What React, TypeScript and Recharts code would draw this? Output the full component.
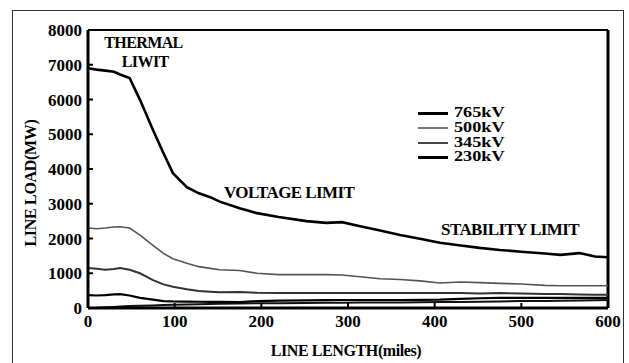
import React from "react";
import {
  LineChart,
  Line,
  XAxis,
  YAxis,
  ReferenceLine,
  ReferenceDot,
  Label,
} from "recharts";

const miles = [0, 10, 20, 30, 37, 48, 60, 75, 87, 98, 114, 128, 141, 152, 175, 195, 220, 252, 275, 293, 314, 337, 360, 383, 406, 430, 452, 475, 500, 527, 545, 567, 585, 600];
const load765 = [6900, 6860, 6830, 6800, 6720, 6620, 5990, 5120, 4460, 3880, 3480, 3300, 3190, 3060, 2870, 2730, 2620, 2500, 2450, 2470, 2350, 2230, 2100, 1990, 1880, 1800, 1730, 1670, 1620, 1570, 1530, 1580, 1480, 1460];
const load500 = [2300, 2280, 2300, 2330, 2340, 2300, 2100, 1800, 1570, 1420, 1290, 1190, 1140, 1100, 1080, 1000, 960, 960, 960, 950, 900, 840, 820, 780, 720, 750, 730, 710, 690, 650, 640, 640, 640, 640];
const load345 = [1150, 1130, 1100, 1120, 1150, 1100, 1000, 800, 680, 610, 540, 490, 470, 455, 460, 440, 430, 430, 430, 430, 430, 430, 430, 430, 430, 430, 420, 430, 420, 400, 400, 390, 380, 380];
const load230 = [370, 360, 370, 390, 400, 360, 290, 240, 200, 190, 185, 180, 178, 175, 170, 200, 210, 220, 225, 230, 230, 230, 230, 235, 240, 260, 280, 290, 290, 290, 290, 290, 290, 290];
const loadLow = [0, 5, 20, 30, 40, 55, 65, 75, 85, 90, 100, 110, 115, 120, 130, 135, 140, 145, 150, 150, 155, 160, 160, 165, 170, 175, 180, 190, 200, 205, 210, 215, 220, 230];

const xTicks = [0, 100, 200, 300, 400, 500, 600];
const yTicks = [0, 1000, 2000, 3000, 4000, 5000, 6000, 7000, 8000];

const legendNames = ["765kV", "500kV", "345kV", "230kV"];
const legendColors = ["#000", "#777", "#444", "#000"];
const legendWidths = [3, 2, 2.2, 3];

const annotations = [
  { text: "THERMAL", x: 64, y: 7630, size: 16 },
  { text: "LIWIT", x: 66, y: 7090, size: 16 },
  { text: "VOLTAGE LIMIT", x: 232, y: 3310, size: 17 },
  { text: "STABILITY LIMIT", x: 487, y: 2270, size: 17 },
];

const data = miles.map((m, i) => ({
  miles: m,
  v765: load765[i],
  v500: load500[i],
  v345: load345[i],
  v230: load230[i],
  vlow: loadLow[i],
}));

const FONT = "Liberation Serif";

const AnnLabel = (text: string, size: number) => (props: any) => {
  const vb = props.viewBox || {};
  const cx = vb.x + (vb.width || 0) / 2;
  const cy = vb.y + (vb.height || 0) / 2;
  return (
    <text
      x={cx}
      y={cy}
      textAnchor="middle"
      dominantBaseline="central"
      style={{ fontFamily: FONT, fontWeight: "bold", fontSize: size, letterSpacing: -0.6 }}
      fill="#000"
    >
      {text}
    </text>
  );
};

const XTick = (props: any) => {
  const { x, y, payload } = props;
  return (
    <text x={x} y={y} dy={12} textAnchor="middle" fill="#000" style={{ fontFamily: FONT, fontWeight: "bold", fontSize: 17 }}>
      {payload.value}
    </text>
  );
};

const YTick = (props: any) => {
  const { x, y, payload } = props;
  return (
    <text x={x} y={y} dy={6} textAnchor="end" fill="#000" style={{ fontFamily: FONT, fontWeight: "bold", fontSize: 17 }}>
      {payload.value}
    </text>
  );
};

const XTitle = (props: any) => {
  const vb = props.viewBox;
  return (
    <text x={vb.x + vb.width / 2 - 2} y={350} textAnchor="middle" dominantBaseline="central" fill="#000" style={{ fontFamily: FONT, fontWeight: "bold", fontSize: 16, letterSpacing: -0.4 }}>
      LINE LENGTH(miles)
    </text>
  );
};

const YTitle = () => {
  const cy = 183;
  return (
    <text x={30} y={cy} transform={`rotate(-90 30 ${cy})`} textAnchor="middle" dominantBaseline="central" fill="#000" style={{ fontFamily: FONT, fontWeight: "bold", fontSize: 16, letterSpacing: -0.3 }}>
      LINE LOAD(MW)
    </text>
  );
};

const LegendBox = () => (
  <div style={{ position: "absolute", left: 418, top: 106, fontFamily: FONT, fontWeight: "bold", fontSize: 14, color: "#000" }}>
    {legendNames.map((n, i) => (
      <div key={n} style={{ display: "flex", alignItems: "center", height: 14.7, lineHeight: "14px" }}>
        <div style={{ width: 30, height: 0, borderTop: `${legendWidths[i]}px solid ${legendColors[i]}`, marginRight: 6 }} />
        <span style={{ display: "inline-block", transform: "scale(1.3, 1.05)", transformOrigin: "left center" }}>{n}</span>
      </div>
    ))}
  </div>
);

export default function App() {
  return (
    <div style={{ position: "absolute", left: 0, top: 0, width: 629, height: 363, background: "#fff", overflow: "hidden" }}>
      <div
        style={{
          position: "absolute",
          left: 12,
          top: 10,
          width: 612,
          height: 370,
          border: "1.5px solid #333",
          boxSizing: "border-box",
        }}
      />
      <div style={{ position: "absolute", left: 0, top: 0 }}>
        <LineChart width={629} height={363} data={data} margin={{ top: 30, right: 21, bottom: 0, left: 0 }} style={{ fontFamily: FONT }}>
          <XAxis
            dataKey="miles"
            type="number"
            domain={[0, 600]}
            ticks={xTicks}
            height={55}
            axisLine={{ stroke: "#000", strokeWidth: 3 }}
            tickLine={{ stroke: "#000", strokeWidth: 2 }}
            tickSize={-5}
            tickMargin={12}
            tick={XTick}
          >
            <Label content={XTitle} />
          </XAxis>
          <YAxis
            type="number"
            domain={[0, 8000]}
            ticks={yTicks}
            width={88}
            axisLine={{ stroke: "#000", strokeWidth: 3 }}
            tickLine={{ stroke: "#000", strokeWidth: 2 }}
            tickSize={-5}
            tickMargin={11}
            tick={YTick}
          >
            <Label content={YTitle} />
          </YAxis>
          <ReferenceLine y={8000} stroke="#000" strokeWidth={2} />
          <ReferenceLine x={600} stroke="#000" strokeWidth={3} />
          <Line dataKey="vlow" name="low" stroke="#111" strokeWidth={2} dot={false} isAnimationActive={false} legendType="none" />
          <Line dataKey="v230" name="230kV" stroke="#000" strokeWidth={2.2} dot={false} isAnimationActive={false} />
          <Line dataKey="v345" name="345kV" stroke="#333" strokeWidth={2} dot={false} isAnimationActive={false} />
          <Line dataKey="v500" name="500kV" stroke="#555" strokeWidth={1.6} dot={false} isAnimationActive={false} />
          <Line dataKey="v765" name="765kV" stroke="#000" strokeWidth={2.6} dot={false} isAnimationActive={false} />
          {annotations.map((a) => (
            <ReferenceDot key={a.text} x={a.x} y={a.y} r={0} fill="none" stroke="none" label={AnnLabel(a.text, a.size)} />
          ))}
        </LineChart>
      </div>
      <LegendBox />
    </div>
  );
}
